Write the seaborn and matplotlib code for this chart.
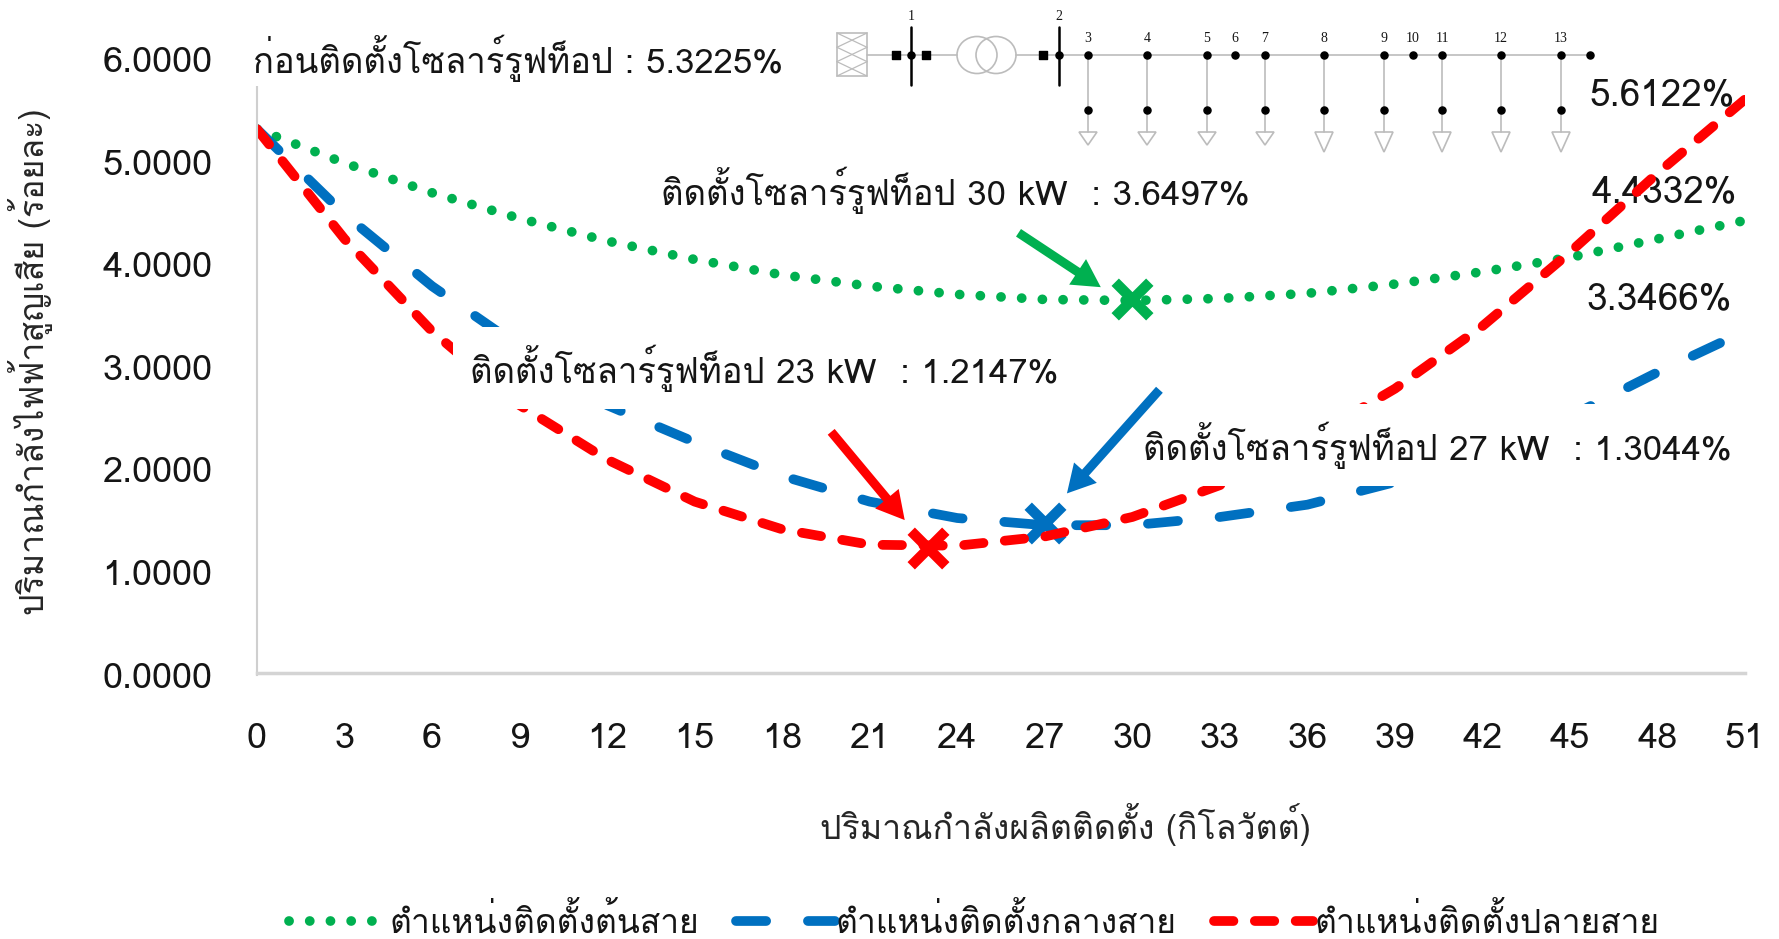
import matplotlib
matplotlib.use("Agg")
import pandas as pd
import matplotlib.pyplot as plt
import seaborn as sns

# kW installed
capacity = [0, 3, 6, 9, 12, 15, 18, 21, 24, 27, 30, 33, 36, 39, 42, 45, 48, 51]
loss_start = [5.32, 4.99, 4.70, 4.45, 4.23, 4.05, 3.90, 3.79, 3.71, 3.66, 3.65, 3.67, 3.72, 3.81, 3.93, 4.07, 4.25, 4.43]
loss_middle = [5.32, 4.49, 3.79, 3.20, 2.63, 2.27, 1.94, 1.69, 1.53, 1.46, 1.46, 1.54, 1.66, 1.88, 2.12, 2.52, 2.95, 3.35]
loss_end = [5.32, 4.25, 3.35, 2.63, 2.10, 1.69, 1.42, 1.27, 1.26, 1.35, 1.54, 1.85, 2.29, 2.79, 3.40, 4.12, 4.89, 5.61]

names = ["ตำแหน่งติดตั้งต้นสาย", "ตำแหน่งติดตั้งกลางสาย", "ตำแหน่งติดตั้งปลายสาย"]
colors = ["#00B050", "#0070C0", "#FF0000"]

best_kw = [30, 27, 23]
best_loss = [3.66, 1.48, 1.24]

arrow_tail = [(26.1, 4.31), (30.93, 2.78), (19.68, 2.37)]
arrow_tip = [(28.92, 3.78), (27.76, 1.77), (22.2, 1.51)]

# feeder sketch, in picture pixels
bus_x = [1088, 1147, 1207, 1235, 1265, 1324, 1384, 1413, 1442, 1501, 1561]
bus_labels = ["3", "4", "5", "6", "7", "8", "9", "10", "11", "12", "13"]
no_load = ["6", "10"]
short_loads = ["3", "4", "5", "7"]

W, H = 1779, 939
LEFT, RIGHT, BASE, PX_UNIT = 257, 1745, 675, 102.6


def to_data(px, py):
    return (px - LEFT) / (RIGHT - LEFT) * 51, (BASE - py) / PX_UNIT


sns.set_theme(style="white")
plt.rcParams["font.family"] = ["Loma", "DejaVu Sans"]
plt.rcParams["lines.dash_capstyle"] = "round"
plt.rcParams["text.color"] = "#151515"

df = pd.DataFrame({
    "kw": capacity * 3,
    "loss": loss_start + loss_middle + loss_end,
    "site": [n for n in names for _ in capacity],
})

fig = plt.figure(figsize=(W / 100, H / 100), dpi=100)
ax = fig.add_axes([LEFT / W, 1 - BASE / H, (RIGHT - LEFT) / W, 6 * PX_UNIT / H])

sns.lineplot(
    data=df, x="kw", y="loss", hue="site", style="site", hue_order=names, style_order=names,
    palette=colors, dashes={names[0]: (0.01, 2.12), names[1]: (3.1, 4.3), names[2]: (2.0, 2.2)},
    linewidth=7, sort=False, ax=ax,
)

for kw, loss, c in zip(best_kw, best_loss, colors):
    sns.scatterplot(x=[kw], y=[loss], marker="x", s=620, color=c, linewidth=7.5, legend=False, ax=ax, zorder=1.5)

for tail, tip, c in zip(arrow_tail, arrow_tip, colors):
    ax.annotate("", xy=tip, xytext=tail, zorder=6, arrowprops=dict(
        arrowstyle="simple,head_length=20,head_width=22,tail_width=6.5", mutation_scale=1,
        color=c, lw=0, shrinkA=0, shrinkB=0))

ax.set_xlim(0, 51)
ax.set_ylim(0, 6)
ax.set_xticks(capacity)
ax.set_yticks([0, 1, 2, 3, 4, 5, 6])
ax.set_yticklabels(["%.4f" % v for v in [0, 1, 2, 3, 4, 5, 6]])
ax.tick_params(axis="x", length=0, pad=36, labelsize=26, labelcolor="#151515")
ax.tick_params(axis="y", length=0, pad=32, labelsize=26, labelcolor="#151515")
sns.despine(ax=ax)
ax.spines["left"].set_color("#cfcfcf")
ax.spines["left"].set_linewidth(1.5)
ax.spines["bottom"].set_color("#d4d4d4")
ax.spines["bottom"].set_linewidth(2.5)
ax.spines["bottom"].set_position(("outward", -1.5))

ax.set_xlabel("ปริมาณกำลังผลิตติดตั้ง (กิโลวัตต์)", fontsize=24.4)
ax.xaxis.set_label_coords((1065 - LEFT) / (RIGHT - LEFT), -(825 - BASE) / (6 * PX_UNIT), transform=ax.transAxes)
ax.xaxis.label.set_va("center")
ax.set_ylabel("ปริมาณกำลังไฟฟ้าสูญเสีย (ร้อยละ)", fontsize=24.4)
ax.yaxis.set_label_coords(-(LEFT - 31) / (RIGHT - LEFT), (BASE - 362) / (6 * PX_UNIT), transform=ax.transAxes)
ax.yaxis.label.set_va("center")

# callouts: the ones over the curves or the axis mask them with a white box
callouts = [
    ("ก่อนติดตั้งโซลาร์รูฟท็อป : 5.3225%", 253, 58, 25, 0.12),
    ("ติดตั้งโซลาร์รูฟท็อป 30 kW  : 3.6497%", 661, 190, 25, None),
    ("ติดตั้งโซลาร์รูฟท็อป 23 kW  : 1.2147%", 470, 368, 25, 0.5),
    ("ติดตั้งโซลาร์รูฟท็อป 27 kW  : 1.3044%", 1143, 445, 25, 0.5),
    ("5.6122%", 1589, 96, 26.5, None),
    ("4.4332%", 1591, 193, 26.5, None),
    ("3.3466%", 1586, 300, 26.5, None),
]
for label, px, py, size, pad in callouts:
    x, y = to_data(px, py)
    box = None if pad is None else dict(boxstyle="square,pad=%g" % pad, fc="white", ec="none")
    ax.text(x, y, label, fontsize=size, ha="left", va="center", bbox=box, clip_on=False,
            zorder=1 if pad is None else 3)

sns.move_legend(
    ax, "center", bbox_to_anchor=(0.5 * (283 + 1665) / W, 1 - 922 / H),
    bbox_transform=fig.transFigure, ncol=3, frameon=False, title=None,
    fontsize=24.2, handlelength=2.95, handletextpad=0.03, columnspacing=1.1,
)

# one-line diagram on top, in pixel coordinates
sk = fig.add_axes([0, 0, 1, 1], zorder=5)
sk.set_xlim(0, W)
sk.set_ylim(H, 0)
sk.axis("off")
grey = "#bcbcbc"
sk.plot([867, 957], [55, 55], color=grey, lw=1.2)
sk.plot([1016, 1590], [55, 55], color=grey, lw=1.2)
sk.add_patch(plt.Rectangle((837, 33), 30, 43, fc="white", ec=grey, lw=1.2))
for top in [33, 47.3, 61.7]:
    sk.plot([837, 867], [top, top + 14.3], color=grey, lw=0.9)
    sk.plot([837, 867], [top + 14.3, top], color=grey, lw=0.9)
for cx in [977, 996]:
    sk.add_patch(matplotlib.patches.Ellipse((cx, 55), 40, 37, fc="none", ec=grey, lw=1.2))
for bx in [911, 1059]:
    sk.plot([bx, bx], [27, 85], color="black", lw=1.8)
sk.scatter([896, 926, 1043], [55, 55, 55], marker="s", s=32, color="black", zorder=3)
sk.scatter([911, 1059, 1590], [55, 55, 55], s=26, color="black", zorder=3)
for bx, t in [(911, "1"), (1059, "2")]:
    sk.text(bx, 17, t, ha="center", va="center", fontsize=10, family="Liberation Serif")
for bx, t in zip(bus_x, bus_labels):
    sk.scatter([bx], [55], s=26, color="black", zorder=3)
    sk.text(bx, 38, t, ha="center", va="center", fontsize=10, family="Liberation Serif")
    if t in no_load:
        continue
    tip = 145 if t in short_loads else 152
    sk.plot([bx, bx], [55, 132], color=grey, lw=1.2)
    sk.scatter([bx], [110], s=26, color="black", zorder=3)
    sk.add_patch(plt.Polygon([(bx - 9, 132), (bx + 9, 132), (bx, tip)], fc="white", ec=grey, lw=1.2))

fig.savefig("out.png", dpi=100)
